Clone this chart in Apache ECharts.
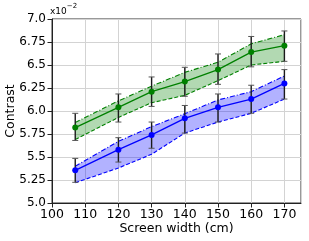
<!DOCTYPE html>
<html><head><meta charset="utf-8">
<script src="https://cdn.jsdelivr.net/npm/echarts@6/dist/echarts.min.js"></script>
<style>html,body{margin:0;padding:0;background:#fff}#c{width:309px;height:241px}</style>
</head><body><div id="c"></div>
<script>
const widths = [107, 120, 130, 140, 150, 160, 170];
const xTicks = [100, 110, 120, 130, 140, 150, 160, 170];
const yTickLabels = ['5.0', '5.25', '5.5', '5.75', '6.0', '6.25', '6.5', '6.75', '7.0'];

const greenMean = [5.82, 6.04, 6.21, 6.32, 6.45, 6.64, 6.71];
const greenErrLow = [5.68, 5.88, 6.05, 6.16, 6.29, 6.48, 6.54];
const greenErrHigh = [5.975, 6.185, 6.37, 6.475, 6.62, 6.81, 6.87];
const greenBandLow = [5.69, 5.93, 6.09, 6.17, 6.33, 6.50, 6.54];
const greenBandHigh = [5.875, 6.11, 6.27, 6.42, 6.53, 6.73, 6.83];

const blueMean = [5.355, 5.58, 5.74, 5.92, 6.04, 6.13, 6.30];
const blueErrLow = [5.225, 5.445, 5.595, 5.76, 5.88, 5.975, 6.13];
const blueErrHigh = [5.485, 5.71, 5.88, 6.06, 6.185, 6.28, 6.45];
const blueBandLow = [5.22, 5.38, 5.53, 5.76, 5.88, 5.975, 6.13];
const blueBandHigh = [5.40, 5.67, 5.83, 5.97, 6.12, 6.21, 6.38];

const FONT = 'DejaVu Sans, sans-serif';
const chart = echarts.init(document.getElementById('c'), null, {renderer: 'canvas'});

function pairs(xs, ys) { return xs.map((x, i) => [x, ys[i]]); }

function bandSeries(low, high, color) {
  return {
    type: 'custom', silent: true, z: 1,
    data: widths.map((x, i) => [x, low[i], high[i]]),
    renderItem: function (params, api) {
      if (params.dataIndex !== 0) return null;
      const pts = [];
      for (let i = 0; i < widths.length; i++) pts.push(api.coord([widths[i], high[i]]));
      for (let i = widths.length - 1; i >= 0; i--) pts.push(api.coord([widths[i], low[i]]));
      return {type: 'polygon', shape: {points: pts}, style: {fill: color, opacity: 0.3}};
    }
  };
}

function edgeLine(ys, color, dash) {
  return {
    type: 'line', data: pairs(widths, ys), symbol: 'none', silent: true, z: 2,
    lineStyle: {color: color, width: 1.1, type: dash}
  };
}

function errSeries(low, high) {
  return {
    type: 'custom', silent: true, z: 3,
    data: widths.map((x, i) => [x, low[i], high[i]]),
    renderItem: function (params, api) {
      const x = api.value(0);
      const lo = api.coord([x, api.value(1)]);
      const hi = api.coord([x, api.value(2)]);
      const cw = 3;
      const st = {stroke: '#1a1a1a', lineWidth: 1.4};
      return {type: 'group', children: [
        {type: 'line', shape: {x1: lo[0], y1: lo[1], x2: hi[0], y2: hi[1]}, style: st},
        {type: 'line', shape: {x1: hi[0] - cw, y1: hi[1], x2: hi[0] + cw, y2: hi[1]}, style: {stroke: '#555', lineWidth: 1}},
        {type: 'line', shape: {x1: lo[0] - cw, y1: lo[1], x2: lo[0] + cw, y2: lo[1]}, style: {stroke: '#555', lineWidth: 1}}
      ]};
    }
  };
}

function meanLine(ys, color) {
  return {
    type: 'line', data: pairs(widths, ys), symbol: 'circle', symbolSize: 6, silent: true, z: 4,
    itemStyle: {color: color}, lineStyle: {color: color, width: 1.3}
  };
}

chart.setOption({
  animation: false,
  backgroundColor: '#fff',
  grid: {left: 52, right: 8, top: 19, bottom: 38, show: true, borderColor: '#333', borderWidth: 1,
    backgroundColor: 'transparent', containLabel: false, outerBoundsMode: 'none'},
  xAxis: {
    type: 'value', min: 100, max: 175, interval: 10,
    name: 'Screen width (cm)', nameLocation: 'middle', nameGap: 19, nameMoveOverlap: false,
    nameTextStyle: {fontFamily: FONT, fontSize: 12.5, color: '#000'},
    axisLine: {show: true, lineStyle: {color: '#222', width: 1}},
    axisTick: {show: true, length: 4.5, lineStyle: {color: '#222'}},
    axisLabel: {fontFamily: FONT, fontSize: 12.5, color: '#000', margin: 5, showMaxLabel: false, hideOverlap: false,
      formatter: v => (xTicks.indexOf(v) >= 0 ? String(v) : '')},
    splitLine: {show: true, lineStyle: {color: '#d3d3d3', width: 1}}
  },
  yAxis: {
    type: 'value', min: 5, max: 7, interval: 0.25,
    name: 'Contrast', nameLocation: 'middle', nameGap: 35, nameRotate: 90, nameMoveOverlap: false,
    nameTextStyle: {fontFamily: FONT, fontSize: 12.5, color: '#000'},
    axisLine: {show: true, lineStyle: {color: '#222', width: 1}},
    axisTick: {show: true, length: 4.5, lineStyle: {color: '#222'}},
    axisLabel: {fontFamily: FONT, fontSize: 12, color: '#000', margin: 6,
      formatter: v => yTickLabels[Math.round((v - 5) / 0.25)] || ''},
    splitLine: {show: true, lineStyle: {color: '#d3d3d3', width: 1}}
  },
  graphic: [{
    type: 'text', left: 50, top: 3,
    style: {text: '{a|x10}{b|−2}', rich: {
      a: {fontFamily: FONT, fontSize: 9, fill: '#000', verticalAlign: 'bottom'},
      b: {fontFamily: FONT, fontSize: 7, fill: '#000', verticalAlign: 'top', padding: [0, 0, 6, 0]}
    }}
  }],
  series: [
    bandSeries(greenBandLow, greenBandHigh, '#008000'),
    bandSeries(blueBandLow, blueBandHigh, '#0000ff'),
    edgeLine(greenBandHigh, '#008000', [5, 2, 1, 2]),
    edgeLine(greenBandLow, '#008000', [4, 2]),
    edgeLine(blueBandHigh, '#0000ff', [5, 2, 1, 2]),
    edgeLine(blueBandLow, '#0000ff', [4, 2]),
    errSeries(greenErrLow, greenErrHigh),
    errSeries(blueErrLow, blueErrHigh),
    meanLine(greenMean, '#008000'),
    meanLine(blueMean, '#0000ff')
  ]
});
</script></body></html>
